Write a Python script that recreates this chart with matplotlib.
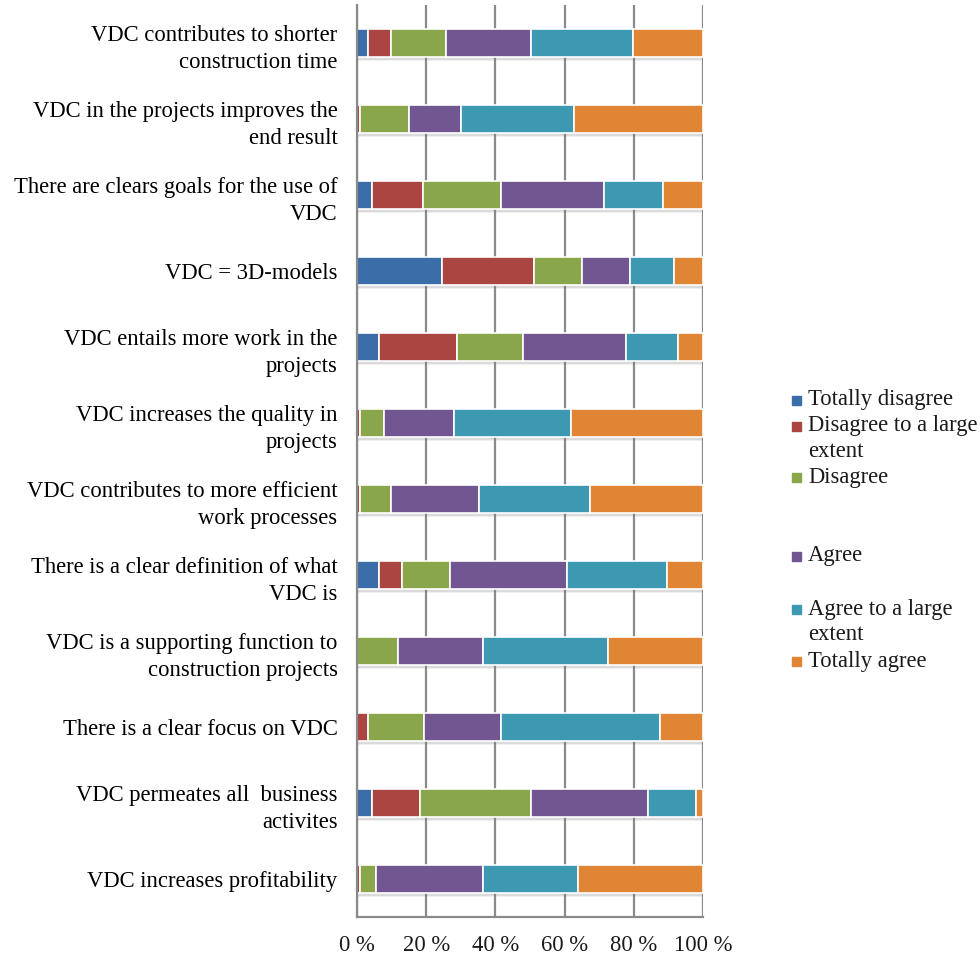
import matplotlib.pyplot as plt
from matplotlib.patches import Rectangle
import numpy as np

categories = [
    "VDC contributes to shorter\nconstruction time",
    "VDC in the projects improves the\nend result",
    "There are clears goals for the use of\nVDC",
    "VDC = 3D-models",
    "VDC entails more work in the\nprojects",
    "VDC increases the quality in\nprojects",
    "VDC contributes to more efficient\nwork processes",
    "There is a clear definition of what\nVDC is",
    "VDC is a supporting function to\nconstruction projects",
    "There is a clear focus on VDC",
    "VDC permeates all  business\nactivites",
    "VDC increases profitability",
]

series_names = [
    "Totally disagree",
    "Disagree to a large\nextent",
    "Disagree",
    "Agree",
    "Agree to a large\nextent",
    "Totally agree",
]

totally_disagree = [3.2, 0.0, 4.2, 24.5, 6.4, 0.0, 0.0, 6.4, 0.0, 0.0, 4.3, 0.0]
disagree_large = [6.5, 1.0, 15.0, 26.7, 22.5, 1.0, 1.0, 6.6, 0.0, 3.2, 14.0, 1.0]
disagree = [15.9, 14.0, 22.4, 13.9, 19.2, 6.7, 8.7, 13.8, 11.9, 16.1, 31.9, 4.4]
agree = [24.6, 15.1, 29.8, 13.7, 29.7, 20.2, 25.7, 34.0, 24.4, 22.4, 34.0, 30.9]
agree_large = [29.6, 32.7, 17.1, 12.9, 14.9, 33.9, 31.9, 28.8, 36.2, 45.8, 13.8, 27.7]
totally_agree = [20.2, 37.2, 11.5, 8.3, 7.3, 38.2, 32.7, 10.4, 27.5, 12.5, 2.0, 36.0]

colors = ["#3b6ea8", "#ab4541", "#8aa64a", "#715691", "#3c99b1", "#df8533"]
xticks = [0, 20, 40, 60, 80, 100]
xtick_labels = ["0 %", "20 %", "40 %", "60 %", "80 %", "100 %"]

plt.rcParams.update({"font.family": "Liberation Serif", "font.size": 16.3,
                     "text.color": "#1a1a1a"})

fig = plt.figure(figsize=(9.8, 9.56), dpi=100)
ax = fig.add_axes([357 / 980, 39 / 956, 346 / 980, 912 / 956])

series = [totally_disagree, disagree_large, disagree, agree, agree_large, totally_agree]
y = np.arange(len(categories))
height = 0.375

# soft shadow under each bar
for off, a in [(0.03, 0.18), (0.05, 0.10)]:
    ax.barh(y + off, [100] * len(y), height=height, color="#7a7a7a", alpha=a,
            zorder=1.5, linewidth=0)

left = np.zeros(len(categories))
for vals, name, c in zip(series, series_names, colors):
    vals = np.array(vals)
    ax.barh(y, vals, left=left, height=height, color=c, edgecolor="white",
            linewidth=1.2, zorder=2, label=name)
    left += vals

ax.set_xlim(0, 100)
ax.set_ylim(len(categories) - 0.5, -0.5)
ax.set_xticks(xticks, xtick_labels)
ax.set_yticks(y, categories, ha="right", multialignment="right", linespacing=1.4)
ax.tick_params(axis="y", length=0, pad=14)
ax.tick_params(axis="x", length=0, pad=13, labelcolor="#1a1a1a")
ax.xaxis.grid(True, color="#8a8a8a", linewidth=1.6, zorder=0)
ax.set_axisbelow(True)
for s in ["top", "right"]:
    ax.spines[s].set_visible(False)
for s in ["left", "bottom"]:
    ax.spines[s].set_color("#8a8a8a")
    ax.spines[s].set_linewidth(1.6)

# legend with spacing as in the original
legend_y = [400, 426, 477, 556, 609, 661]
for name, c, ly in zip(series_names, colors, legend_y):
    fig.patches.append(Rectangle((792 / 980, (956 - ly - 4.5) / 956), 8.5 / 980, 8.5 / 956,
                                 transform=fig.transFigure, color=c))
    for i, line in enumerate(name.split("\n")):
        fig.text(808 / 980, (956 - ly - i * 25.5) / 956, line, va="center", ha="left")

fig.savefig("out.png", dpi=100)
